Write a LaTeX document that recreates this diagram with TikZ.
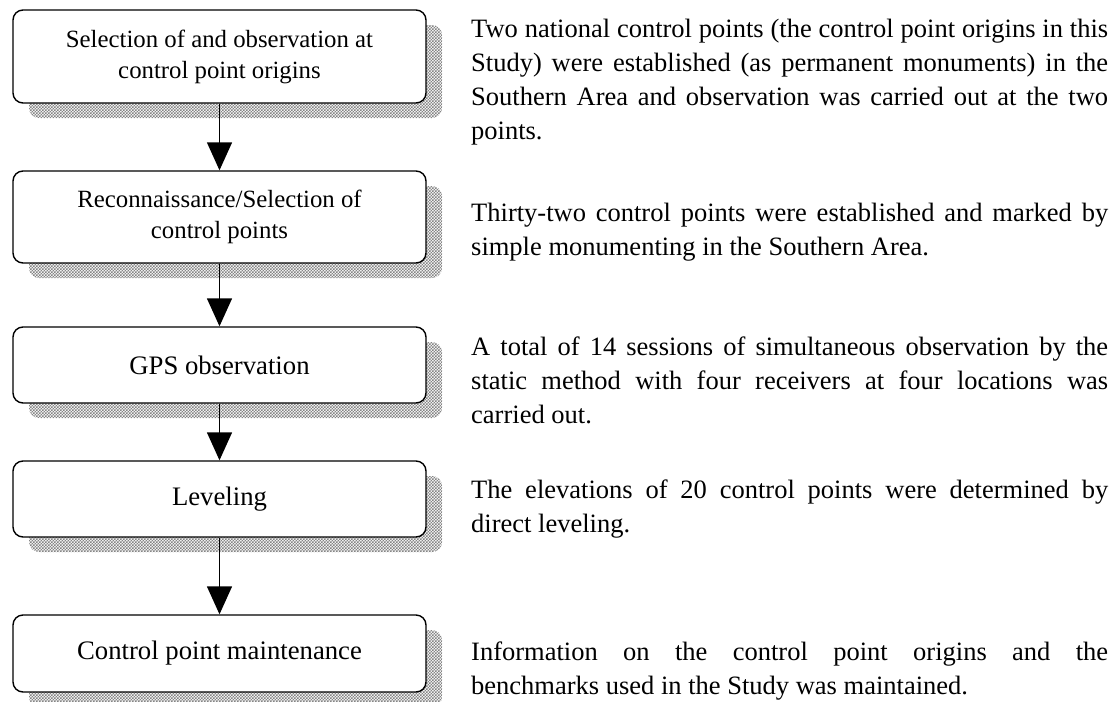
\documentclass[tikz,border=0pt]{standalone}
\usepackage{fontspec}
\setmainfont{Liberation Serif}
\usetikzlibrary{arrows.meta,shadows,patterns}

% fine grey checkerboard used for the box shadows
\pgfdeclarepatternformonly{fine checker}{\pgfqpoint{-0.1pt}{-0.1pt}}{\pgfqpoint{3.1pt}{3.1pt}}{\pgfqpoint{3pt}{3pt}}{%
  \pgfpathrectangle{\pgfpointorigin}{\pgfqpoint{1.5pt}{1.5pt}}%
  \pgfpathrectangle{\pgfqpoint{1.5pt}{1.5pt}}{\pgfqpoint{1.5pt}{1.5pt}}%
  \pgfusepath{fill}}

% loose justified paragraphs without hyphenation
\newcommand\notesetup{\tolerance=10000\relax\hbadness=10000\relax\hyphenpenalty=10000\relax}

\begin{document}
\begin{tikzpicture}[x=1pt,y=-1pt,
  stage/.style={draw, line width=1.4pt, rounded corners=10pt, fill=white,
    minimum width=413pt, inner sep=0pt, align=center,
    font=\fontsize{24.8}{31}\selectfont,
    general shadow={draw=none, shadow xshift=16pt, shadow yshift=-15pt,
      pattern=fine checker, pattern color=black!48}},
  oneline/.style={font=\fontsize{26.7}{31}\selectfont},
  flow/.style={line width=1.4pt, -{Triangle[length=28pt,width=25pt]}},
  note/.style={anchor=base west, inner sep=0pt, text width=637pt, align=justify,
    font=\fontsize{26.5}{34}\selectfont\notesetup}]
\useasboundingbox (0,0) rectangle (1112,702);

% process steps
\node[stage, minimum height=93pt] (s1) at (219.5,56.5) {Selection of and observation at\\control point origins};
\node[stage, minimum height=92pt] (s2) at (219.5,217) {Reconnaissance/Selection of\\control points};
\node[stage, oneline, minimum height=76pt] (s3) at (219.5,365) {GPS observation};
\node[stage, oneline, minimum height=76pt] (s4) at (219.5,499) {Leveling};
\node[stage, oneline, minimum height=77pt] (s5) at (219.5,653.5) {Control point maintenance};

% flow between the steps
\draw[flow] (s1) -- (s2);
\draw[flow] (s2) -- (s3);
\draw[flow] (s3) -- (s4);
\draw[flow] (s4) -- (s5);

% descriptions
\node[note] (n1) at (471,37) {Two national control points (the control point origins in this\linebreak Study) were established (as permanent monuments) in the\linebreak Southern Area and observation was carried out at the two\linebreak points.};
\node[note] (n2) at (471,221) {Thirty-two control points were established and marked by\linebreak simple monumenting in the Southern Area.};
\node[note] (n3) at (471,355) {A total of 14 sessions of simultaneous observation by the\linebreak static method with four receivers at four locations was\linebreak carried out.};
\node[note] (n4) at (471,498) {The elevations of 20 control points were determined by\linebreak direct leveling.};
\node[note] (n5) at (471,660) {Information on the control point origins and the\linebreak benchmarks used in the Study was maintained.};
\end{tikzpicture}
\end{document}
